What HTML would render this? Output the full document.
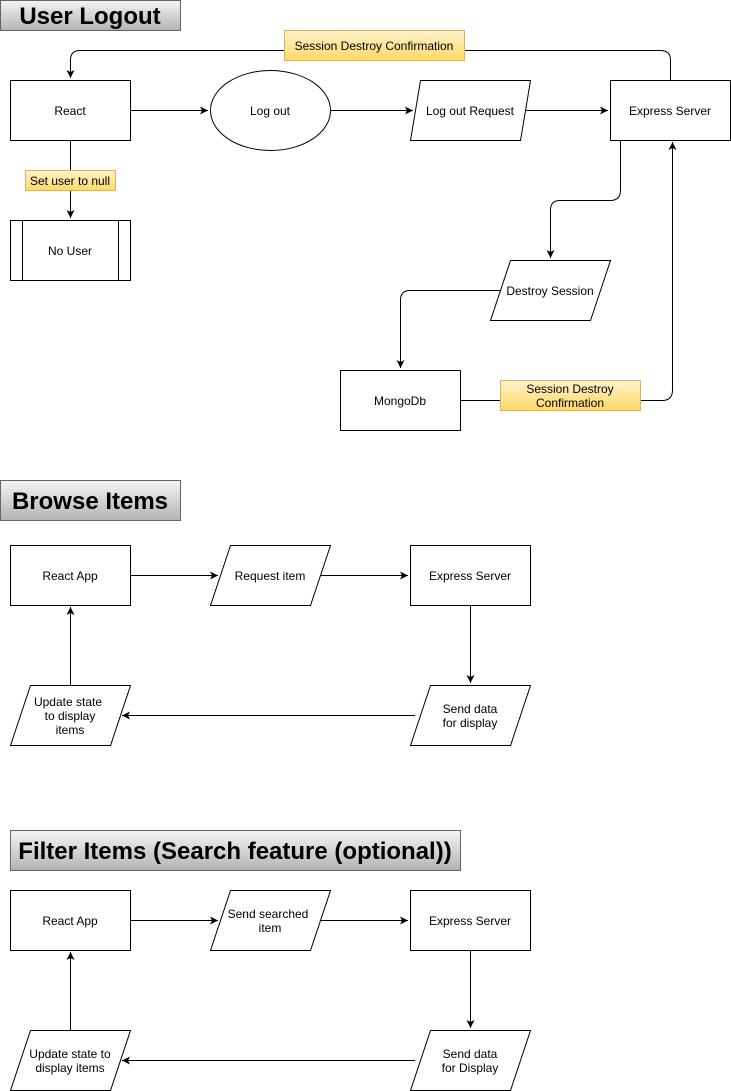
<!DOCTYPE html>
<html><head><meta charset="utf-8"><style>
html,body{margin:0;padding:0;background:#fff;}
svg{display:block;font-family:"Liberation Sans",Helvetica,sans-serif;}
</style></head><body>
<svg width="731" height="1091" viewBox="0 0 731 1091" xmlns="http://www.w3.org/2000/svg">
<defs>
<linearGradient id="hg" x1="0" y1="0" x2="0" y2="1"><stop offset="0" stop-color="#f5f5f5"/><stop offset="1" stop-color="#b3b3b3"/></linearGradient>
<linearGradient id="yg" x1="0" y1="0" x2="0" y2="1"><stop offset="0" stop-color="#fff2cc"/><stop offset="1" stop-color="#ffd966"/></linearGradient>
<marker id="a" markerWidth="10" markerHeight="10" refX="8" refY="5" orient="auto" markerUnits="userSpaceOnUse"><path d="M0,1 L8,5 L0,9 L2,5 Z" fill="#000"/></marker>
</defs>
<g stroke="#666" fill="url(#hg)">
<rect x="0.5" y="0.5" width="180" height="30"/>
<rect x="0.5" y="480.5" width="180" height="40"/>
<rect x="10.5" y="830.5" width="450" height="40"/>
</g>
<g font-weight="bold" text-anchor="middle" fill="#000">
<text x="90" y="24" font-size="24">User Logout</text>
<text x="90" y="509" font-size="24">Browse Items</text>
<text x="235" y="859" font-size="24">Filter Items (Search feature (optional))</text>
</g>
<g fill="none" stroke="#000" stroke-width="1">
<path d="M670.5,80 V60 Q670.5,50.5 660,50.5 H80 Q70.5,50.5 70.5,60 V78" marker-end="url(#a)"/>
<path d="M130,110.5 H208" marker-end="url(#a)"/>
<path d="M330,110.5 H413" marker-end="url(#a)"/>
<path d="M520,110.5 H608" marker-end="url(#a)"/>
<path d="M70.5,140 V218" marker-end="url(#a)"/>
<path d="M620.5,140 V190 Q620.5,200.5 610,200.5 H560 Q550.5,200.5 550.5,210 V258" marker-end="url(#a)"/>
<path d="M500,290.5 H410 Q400.5,290.5 400.5,300 V368" marker-end="url(#a)"/>
<path d="M460,400.5 H662 Q672.5,400.5 672.5,390 V142" marker-end="url(#a)"/>
<path d="M130,575.5 H218" marker-end="url(#a)"/>
<path d="M320,575.5 H408" marker-end="url(#a)"/>
<path d="M470.5,605 V683" marker-end="url(#a)"/>
<path d="M415,715.5 H122" marker-end="url(#a)"/>
<path d="M70.5,685 V607" marker-end="url(#a)"/>
<path d="M130,920.5 H218" marker-end="url(#a)"/>
<path d="M320,920.5 H408" marker-end="url(#a)"/>
<path d="M470.5,950 V1028" marker-end="url(#a)"/>
<path d="M415,1060.5 H122" marker-end="url(#a)"/>
<path d="M70.5,1030 V952" marker-end="url(#a)"/>
</g>
<g fill="#fff" stroke="#000">
<rect x="10.5" y="80.5" width="120" height="60"/>
<ellipse cx="270.5" cy="110.5" rx="60" ry="40"/>
<polygon points="420.5,80.5 530.5,80.5 520.5,140.5 410.5,140.5"/>
<rect x="610.5" y="80.5" width="120" height="60"/>
<rect x="10.5" y="220.5" width="120" height="60"/>
<path d="M22.5,220.5 V280.5 M118.5,220.5 V280.5" fill="none"/>
<polygon points="510.5,260.5 610.5,260.5 590.5,320.5 490.5,320.5"/>
<rect x="340.5" y="370.5" width="120" height="60"/>
<rect x="10.5" y="545.5" width="120" height="60"/>
<polygon points="230.5,545.5 330.5,545.5 310.5,605.5 210.5,605.5"/>
<rect x="410.5" y="545.5" width="120" height="60"/>
<polygon points="430.5,685.5 530.5,685.5 510.5,745.5 410.5,745.5"/>
<polygon points="30.5,685.5 130.5,685.5 110.5,745.5 10.5,745.5"/>
<rect x="10.5" y="890.5" width="120" height="60"/>
<polygon points="230.5,890.5 330.5,890.5 310.5,950.5 210.5,950.5"/>
<rect x="410.5" y="890.5" width="120" height="60"/>
<polygon points="430.5,1030.5 530.5,1030.5 510.5,1090.5 410.5,1090.5"/>
<polygon points="30.5,1030.5 130.5,1030.5 110.5,1090.5 10.5,1090.5"/>
</g>
<g fill="url(#yg)" stroke="#d6b656">
<rect x="284.5" y="30.5" width="180" height="30"/>
<rect x="25.5" y="170.5" width="90" height="20"/>
<rect x="500.5" y="380.5" width="140" height="30"/>
</g>
<g font-size="12" text-anchor="middle" fill="#000">
<text x="374" y="50">Session Destroy Confirmation</text>
<text x="70" y="185">Set user to null</text>
<text x="570" y="393">Session Destroy</text>
<text x="570" y="407">Confirmation</text>
<text x="70" y="115">React</text>
<text x="270" y="115">Log out</text>
<text x="470" y="115">Log out Request</text>
<text x="670" y="115">Express Server</text>
<text x="70" y="255">No User</text>
<text x="550" y="295">Destroy Session</text>
<text x="400" y="405">MongoDb</text>
<text x="70" y="580">React App</text>
<text x="270" y="580">Request item</text>
<text x="470" y="580">Express Server</text>
<text x="470" y="713">Send data</text>
<text x="470" y="727">for display</text>
<text x="68" y="706">Update state</text>
<text x="70" y="720">to display</text>
<text x="70" y="734">items</text>
<text x="70" y="925">React App</text>
<text x="268" y="918">Send searched</text>
<text x="270" y="932">item</text>
<text x="470" y="925">Express Server</text>
<text x="470" y="1058">Send data</text>
<text x="470" y="1072">for Display</text>
<text x="70" y="1058">Update state to</text>
<text x="70" y="1072">display items</text>
</g>
</svg>
</body></html>
